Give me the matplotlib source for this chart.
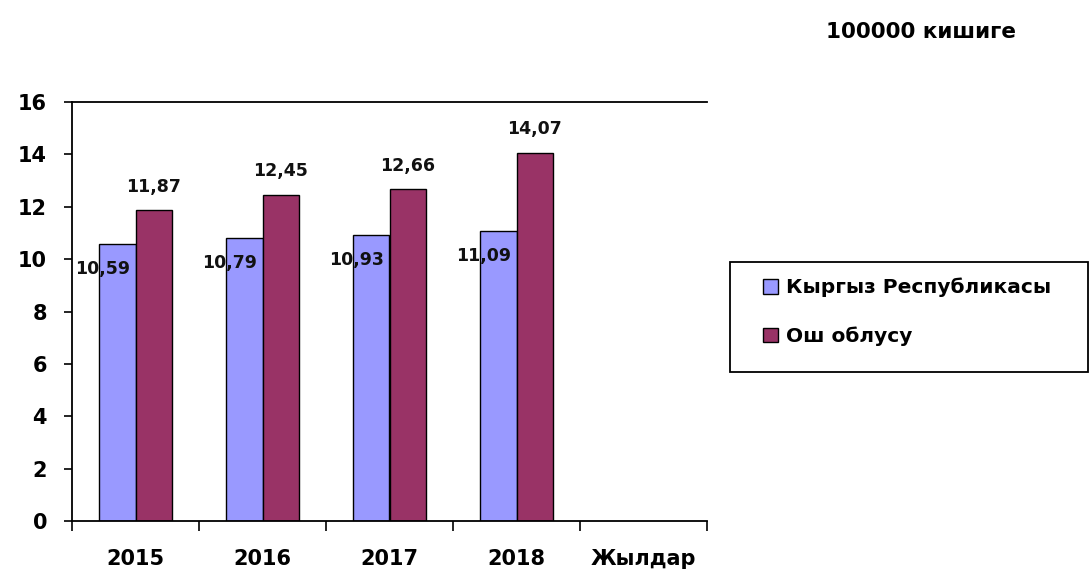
import matplotlib

matplotlib.use("Agg")
import matplotlib.pyplot as plt
import numpy as np
from matplotlib.patches import Rectangle

categories = ["2015", "2016", "2017", "2018", "Жылдар"]
years = ["2015", "2016", "2017", "2018"]
kyrgyz = [10.59, 10.79, 10.93, 11.09]
osh = [11.87, 12.45, 12.66, 14.07]
series_names = ["Кыргыз Республикасы", "Ош облусу"]

BLUE = "#9999FF"
RED = "#993366"

plt.rcParams["font.family"] = ["DejaVu Sans"]
plt.rcParams["font.weight"] = "bold"

fig = plt.figure(figsize=(10.89, 5.71), dpi=100)
ax = fig.add_axes([72 / 1089, 1 - 521 / 571, 635 / 1089, 419 / 571])

x = np.arange(len(years))
w = 0.285
b1 = ax.bar(x - w / 2, kyrgyz, w, color=BLUE, edgecolor="black", linewidth=1, label=series_names[0])
b2 = ax.bar(x + w / 2, osh, w, color=RED, edgecolor="black", linewidth=1, label=series_names[1])

for xi, v in zip(x, kyrgyz):
    ax.annotate(f"{v:.2f}".replace(".", ","), (xi - w / 2, v), xytext=(-11, -18),
                textcoords="offset points", ha="center", va="center",
                fontsize=12.5, fontweight="bold", color="#111111")
for xi, v in zip(x, osh):
    ax.annotate(f"{v:.2f}".replace(".", ","), (xi + w / 2, v), xytext=(0, 17),
                textcoords="offset points", ha="center", va="center",
                fontsize=12.5, fontweight="bold", color="#111111")

ax.set_xlim(-0.5, len(categories) - 0.5)
ax.set_ylim(0, 16)
ax.set_yticks(range(0, 17, 2))
ax.set_xticks(np.arange(len(categories)))
ax.set_xticklabels(categories, fontsize=15, fontweight="bold")
ax.set_xticks(np.arange(len(categories) + 1) - 0.5, minor=True)
ax.tick_params(axis="x", which="major", length=0, pad=20)
ax.tick_params(axis="x", which="minor", length=7, width=1.2, direction="out")
ax.tick_params(axis="y", length=6, width=1.2, direction="out", labelsize=15, pad=12)
for lab in ax.get_yticklabels():
    lab.set_fontweight("bold")

for s in ["left", "bottom", "top"]:
    ax.spines[s].set_linewidth(1.3)
ax.spines["right"].set_visible(False)

fig.text(921 / 1089, 1 - 32 / 571, "100000 кишиге", ha="center", va="center",
         fontsize=15.5, fontweight="bold")

fig.patches.append(Rectangle((730 / 1089, 1 - 372 / 571), 358 / 1089, 110 / 571,
                             transform=fig.transFigure, facecolor="white",
                             edgecolor="black", linewidth=1.3))
leg = fig.legend(handles=[b1, b2], loc="center left",
                 bbox_to_anchor=(745 / 1089, 1 - 312 / 571), frameon=False,
                 fontsize=14.5, handlelength=0.72, handleheight=0.72,
                 handletextpad=0.4, labelspacing=1.45)
for t in leg.get_texts():
    t.set_fontweight("bold")

fig.savefig("out.png", dpi=100, facecolor="white")
